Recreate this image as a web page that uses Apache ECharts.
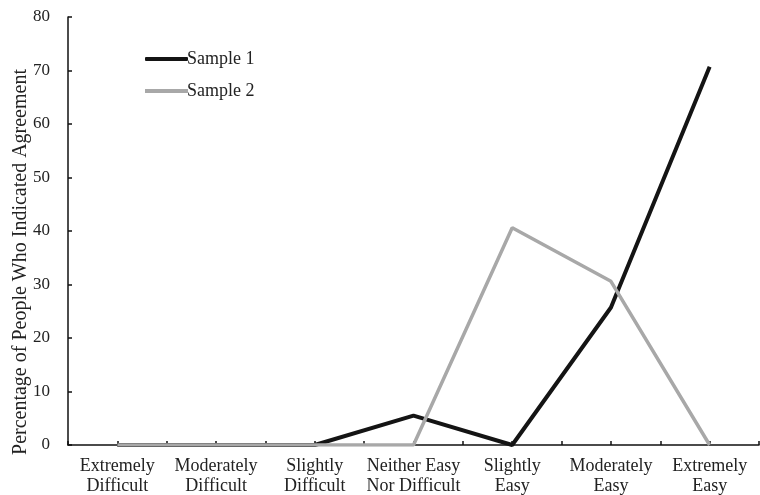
<!DOCTYPE html>
<html>
<head>
<meta charset="utf-8">
<script src="https://cdn.jsdelivr.net/npm/echarts@6/dist/echarts.min.js"></script>
<style>html,body{margin:0;padding:0;background:#fff;}#c{width:760px;height:495px;}</style>
</head>
<body>
<div id="c"></div>
<script>
var categories = ['Extremely\nDifficult','Moderately\nDifficult','Slightly\nDifficult','Neither Easy\nNor Difficult','Slightly\nEasy','Moderately\nEasy','Extremely\nEasy'];
var sample1 = [0, 0, 0, 5.5, 0, 25.7, 70.7];
var sample2 = [0, 0, 0, 0, 40.6, 30.6, 0];
var yTicks = {min: 0, max: 80, interval: 10};
var yTitle = 'Percentage of People Who Indicated Agreement';
var seriesNames = ['Sample 1', 'Sample 2'];

var font = 'Liberation Serif';
var chart = echarts.init(document.getElementById('c'), null, {renderer: 'canvas'});
chart.setOption({
  animation: false,
  backgroundColor: '#fff',
  textStyle: {fontFamily: font},
  grid: {left: 68, right: 1, top: 17, bottom: 50, containLabel: false, outerBoundsMode: 'none'},
  legend: {
    orient: 'vertical', left: 140, top: 45, itemWidth: 43, itemHeight: 4, itemGap: 14,
    textStyle: {fontFamily: font, fontSize: 18, lineHeight: 18, color: '#222', padding: [0,0,0,-6]},
    data: [{name: seriesNames[0], icon: 'roundRect'}, {name: seriesNames[1], icon: 'rect'}]
  },
  xAxis: [{
    type: 'category', data: categories, boundaryGap: true,
    axisLine: {lineStyle: {color: '#111', width: 1.5}},
    axisTick: {show: true, inside: true, length: 4, alignWithLabel: false, lineStyle: {color: '#111', width: 1.5}},
    axisLabel: {fontFamily: font, fontSize: 18, color: '#222', margin: 11, lineHeight: 20, interval: 0}
  }, {
    type: 'category', data: categories, boundaryGap: true, position: 'bottom',
    axisLine: {show: false},
    axisTick: {show: true, inside: true, length: 4, alignWithLabel: true, lineStyle: {color: '#111', width: 1.5}},
    axisLabel: {show: false}
  }],
  yAxis: {
    type: 'value', min: yTicks.min, max: yTicks.max, interval: yTicks.interval,
    name: yTitle, nameLocation: 'middle', nameGap: 37, nameMoveOverlap: false,
    nameTextStyle: {fontFamily: font, fontSize: 20, color: '#222', padding: [0, 62, 0, 0]},
    axisLine: {show: true, lineStyle: {color: '#111', width: 1.5}},
    axisTick: {show: true, inside: true, length: 4, lineStyle: {color: '#111', width: 1.5}},
    axisLabel: {fontFamily: font, fontSize: 17, color: '#222', margin: 18},
    splitLine: {show: false}
  },
  series: [{
    name: seriesNames[0], type: 'line', data: sample1, symbol: 'none',
    lineStyle: {color: '#141414', width: 4}, itemStyle: {color: '#141414'}, z: 2
  }, {
    name: seriesNames[1], type: 'line', data: sample2, symbol: 'none',
    lineStyle: {color: '#a8a8a8', width: 3.5}, itemStyle: {color: '#a8a8a8'}, z: 3
  }]
});
</script>
</body>
</html>
